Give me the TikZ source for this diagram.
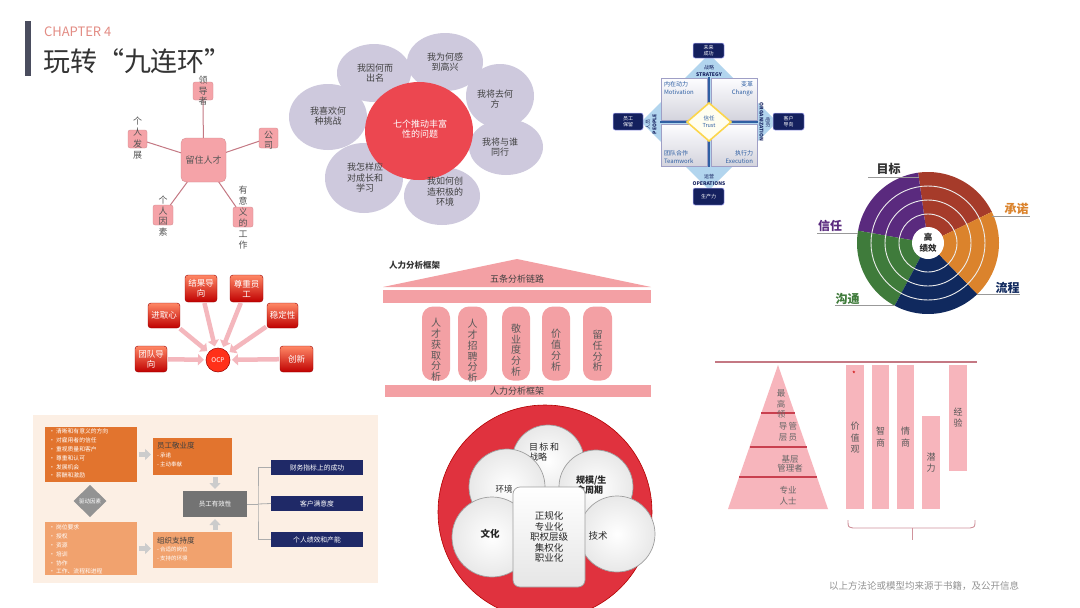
\documentclass[tikz,border=0pt]{standalone}
\usepackage{fontspec}
\setmainfont{Noto Sans CJK SC}
\usetikzlibrary{arrows.meta,shapes.geometric,calc}
\newcommand\fsz[2]{\fontsize{#1}{#2}\selectfont}
\definecolor{titlebar}{HTML}{4A4D5E}
\definecolor{chapter}{HTML}{E38C84}
\definecolor{titletext}{HTML}{333333}
\definecolor{starpink}{HTML}{F5A3A8}
\definecolor{starline}{HTML}{C47883}
\definecolor{startext}{HTML}{555555}
\definecolor{petal}{HTML}{CEC9DD}
\definecolor{flowerred}{HTML}{EC4750}
\definecolor{dblue}{HTML}{B2D5EE}
\definecolor{navy}{HTML}{14205E}
\definecolor{qtext}{HTML}{2F5FA3}
\definecolor{pred}{HTML}{A63B2A}
\definecolor{ppurple}{HTML}{5A2A7E}
\definecolor{pgreen}{HTML}{3F7B3B}
\definecolor{pnavy}{HTML}{10295E}
\definecolor{porange}{HTML}{DB832C}
\definecolor{ocparrow}{HTML}{F4B7BD}
\definecolor{hrpink}{HTML}{F3A0A4}
\definecolor{pyrpink}{HTML}{F7B5BC}
\definecolor{pyrline}{HTML}{C9404F}
\definecolor{panel}{HTML}{FCEFE4}
\definecolor{odark}{HTML}{E2742E}
\definecolor{olight}{HTML}{F1A26E}
\definecolor{bnavy}{HTML}{1F2967}
\definecolor{effgray}{HTML}{737373}
\definecolor{orgred}{HTML}{E0323E}
\begin{document}
\begin{tikzpicture}[x=1pt,y=-1pt,
  every node/.style={inner sep=0pt,outer sep=0pt},
  starbox/.style={fill=starpink,rounded corners=2pt,draw=starpink!85!black,line width=0.3pt},
  starlink/.style={draw=starline,line width=1pt},
  vtext/.style={align=center,text=startext},
  petalst/.style={ellipse,fill=petal},
  ptext/.style={align=center,text=black!75,font=\fsz{9}{10.5}},
  navybox/.style={fill=navy,draw=blue!30!white,line width=0.5pt,rounded corners=2pt,text=white,align=center,font=\fsz{5}{6}},
  qbox/.style={top color=white!90!blue!8,bottom color=blue!12!gray!30,draw=blue!25!gray!60,line width=0.5pt},
  ocpbox/.style={rounded corners=3pt,top color=red!55!orange!60,bottom color=red!75!black,draw=red!60!black,line width=0.4pt,text=white,align=center,font=\fsz{8.5}{10}},
  ocparr/.style={draw=ocparrow,line width=4.5pt,-{Triangle[width=11pt,length=6pt]},shorten >=2pt,shorten <=1pt},
  pillar/.style={rounded corners=11pt,fill=hrpink},
  pilltext/.style={align=center,text=black!65,font=\fsz{10}{10.8}},
  grayarr/.style={draw=gray!40,line width=5pt,-{Triangle[width=11pt,length=6pt]},shorten <=2pt,shorten >=2pt},
  wcirc/.style={circle,draw=gray!75,line width=0.7pt,inner color=white,outer color=gray!18},
  pielabel/.style={font=\bfseries\fsz{12}{12}}
]
\useasboundingbox (0,0) rectangle (1080,608);
\fill[white] (0,0) rectangle (1080,608);

% ---------- title
\fill[titlebar] (25,21) rectangle (31,76);
\node[anchor=west,text=chapter,font=\fsz{13}{13}] (chap) at (44,32) {CHAPTER 4};
\node[anchor=west,text=titletext,font=\fsz{27}{27}] (ttl) at (43,61) {玩转“九连环”};

% ---------- star diagram
\node[starbox,minimum width=45pt,minimum height=44pt,rounded corners=5pt] (ct) at (203.5,160) {};
\node[font=\fsz{9}{10},text=startext] (ctt) at (ct) {留住人才};
\node[starbox,minimum width=20pt,minimum height=18pt] (ld) at (203,91) {};
\node[starbox,minimum width=19pt,minimum height=18pt] (gr) at (137.5,139) {};
\node[starbox,minimum width=19pt,minimum height=20pt] (gs) at (268.5,138) {};
\node[starbox,minimum width=20pt,minimum height=20pt] (gy) at (163,215) {};
\node[starbox,minimum width=20pt,minimum height=20pt] (yy) at (243,217) {};
\foreach \s in {ld,gr,gs,gy,yy} \draw[starlink] (ct) -- (\s);
\node[vtext,font=\fsz{9}{10.5}] (ldt) at (203,91) {领\\导\\者};
\node[vtext,font=\fsz{9}{11.5}] (grt) at (137.5,138) {个\\人\\发\\展};
\node[vtext,font=\fsz{9}{10.5}] (gst) at (268.5,140) {公\\司};
\node[vtext,font=\fsz{9}{10.5}] (gyt) at (163,216) {个\\人\\因\\素};
\node[vtext,font=\fsz{9}{11}] (yyt) at (243,217.5) {有\\意\\义\\的\\工\\作};

% ---------- flower
\node[petalst,minimum width=74pt,minimum height=58pt] (p1) at (374,73) {};
\node[petalst,minimum width=76pt,minimum height=58pt] (p2) at (445,62) {};
\node[petalst,minimum width=68pt,minimum height=64pt] (p3) at (500,96) {};
\node[petalst,minimum width=74pt,minimum height=56pt] (p4) at (506,147) {};
\node[petalst,minimum width=76pt,minimum height=58pt] (p5) at (442,196) {};
\node[petalst,minimum width=78pt,minimum height=70pt] (p6) at (364,178) {};
\node[petalst,minimum width=78pt,minimum height=66pt] (p7) at (328,117) {};
\node[ellipse,fill=flowerred,minimum width=108pt,minimum height=98pt] (fc) at (419,131) {};
\node[ptext,text=white] (fct) at (420,129) {七个推动丰富\\性的问题};
\node[ptext] (p1t) at (375,73) {我因何而\\出名};
\node[ptext] (p2t) at (445,62) {我为何感\\到高兴};
\node[ptext] (p3t) at (495,99) {我将去何\\方};
\node[ptext] (p4t) at (500,147) {我将与谁\\同行};
\node[ptext] (p5t) at (445,192) {我如何创\\造积极的\\环境};
\node[ptext] (p6t) at (365,178) {我怎样应\\对成长和\\学习};
\node[ptext] (p7t) at (328,116) {我喜欢何\\种挑战};

% ---------- diamond model
\fill[dblue] (709,54) -- (777,122) -- (709,190) -- (641,122) -- cycle;
\draw[qbox] (661,78) rectangle (707,120);
\draw[qbox] (711,78) rectangle (757,120);
\draw[qbox] (661,124) rectangle (707,166);
\draw[qbox] (711,124) rectangle (757,166);
\draw[qtext,line width=1.3pt] (709,77) -- (709,167);
\draw[qtext,line width=1.3pt] (660,122) -- (758,122);
\draw[draw=yellow!60!orange!70,fill=yellow!6,line width=1.6pt] (709,103) -- (731,122) -- (709,141) -- (687,122) -- cycle;
\node[align=center,text=qtext,font=\fsz{5.5}{7}] (trust) at (709,122) {信任\\Trust};
\node[navybox,minimum width=31pt,minimum height=15pt] (fut) at (708.5,50.5) {未来\\成功};
\node[navybox,minimum width=31pt,minimum height=17pt] (prd) at (708.5,196.5) {生产力};
\node[navybox,minimum width=30pt,minimum height=17pt] (ret) at (628,121.5) {员工\\保留};
\node[navybox,minimum width=31pt,minimum height=17pt] (cus) at (788.5,121.5) {客户\\导向};
\node[align=center,text=navy,font=\fsz{5}{7}] (stl) at (709,71) {战略\\\textbf{STRATEGY}};
\node[align=center,text=navy,font=\fsz{5}{7}] (opl) at (709,180) {运营\\\textbf{OPERATIONS}};
\node[align=center,text=navy,font=\fsz{5}{6.5},rotate=90] (ppl) at (651,124) {人员\\\textbf{PEOPLE}};
\node[align=center,text=navy,font=\fsz{5}{6.5},rotate=-90] (orgl) at (765,122) {组织\\\textbf{ORGANIZATION}};
\node[anchor=north west,align=left,text=qtext,font=\fsz{6}{8}] (mot) at (664,81) {内在动力\\Motivation};
\node[anchor=north east,align=right,text=qtext,font=\fsz{6}{8}] (chg) at (753,81) {变革\\Change};
\node[anchor=north west,align=left,text=qtext,font=\fsz{6}{8}] (tw) at (664,150) {团队合作\\Teamwork};
\node[anchor=north east,align=right,text=qtext,font=\fsz{6}{8}] (exe) at (753,150) {执行力\\Execution};

% ---------- pie chart
\fill[pred] (928,243) -- plot[domain=26:98,samples=40] ({928+71*cos(\x)},{243-71*sin(\x)}) -- cycle;
\fill[ppurple] (928,243) -- plot[domain=98:170,samples=40] ({928+71*cos(\x)},{243-71*sin(\x)}) -- cycle;
\fill[pgreen] (928,243) -- plot[domain=170:242,samples=40] ({928+71*cos(\x)},{243-71*sin(\x)}) -- cycle;
\fill[pnavy] (928,243) -- plot[domain=242:314,samples=40] ({928+71*cos(\x)},{243-71*sin(\x)}) -- cycle;
\fill[porange] (928,243) -- plot[domain=314:386,samples=40] ({928+71*cos(\x)},{243-71*sin(\x)}) -- cycle;
\foreach \r in {29,43,57} \draw[white!85!gray,line width=0.9pt] (928,243) circle[radius=\r];
\fill[white] (928,243) circle[radius=16];
\node[align=center,font=\bfseries\fsz{8.5}{11},text=black!85] (hp) at (928,243) {高\\绩效};
\node[pielabel,text=black!80] (mb) at (888.5,169) {目标};
\node[pielabel,text=porange] (cn) at (1016.5,209) {承诺};
\node[pielabel,text=ppurple] (xr) at (830,226) {信任};
\node[pielabel,text=pgreen] (gt) at (847.5,298.5) {沟通};
\node[pielabel,text=pnavy] (lc) at (1007.5,287.5) {流程};
\draw[gray!80,line width=0.8pt] (868,177) -- (919,177);
\draw[gray!80,line width=0.8pt] (992,216) -- (1030,216);
\draw[gray!80,line width=0.8pt] (817,233) -- (858,233);
\draw[gray!80,line width=0.8pt] (835,305) -- (895,305);
\draw[gray!80,line width=0.8pt] (977,294) -- (1020,294);

% ---------- OCP
\node[circle,fill=red!80!orange!90,draw=red!60!black,line width=0.5pt,minimum size=24pt,text=white,font=\fsz{6.5}{7}] (ocp) at (218,360) {OCP};
\node[ocpbox,minimum width=32pt,minimum height=26pt] (o1) at (151,359) {团队导\\向};
\node[ocpbox,minimum width=32pt,minimum height=25pt] (o2) at (164,315.5) {进取心};
\node[ocpbox,minimum width=32pt,minimum height=27pt] (o3) at (201,288.5) {结果导\\向};
\node[ocpbox,minimum width=33pt,minimum height=27pt] (o4) at (246.5,288.5) {尊重员\\工};
\node[ocpbox,minimum width=31pt,minimum height=25pt] (o5) at (282.5,315.5) {稳定性};
\node[ocpbox,minimum width=33pt,minimum height=26pt] (o6) at (296.5,359) {创新};
\foreach \s in {o1,o2,o3,o4,o5,o6} \draw[ocparr] (\s) -- (ocp);

% ---------- HR framework
\node[anchor=west,font=\bfseries\fsz{8.5}{9},text=black!80] (hrt) at (389,265) {人力分析框架};
\fill[hrpink] (383,287) -- (517,259) -- (651,287) -- cycle;
\node[font=\fsz{9}{10},text=black!75] (roof) at (517,279) {五条分析链路};
\fill[hrpink] (383,290) rectangle (651,303);
\node[pillar,minimum width=28pt,minimum height=74pt] (h1) at (436,343.5) {};
\node[pillar,minimum width=29pt,minimum height=74pt] (h2) at (472.5,343.5) {};
\node[pillar,minimum width=28pt,minimum height=74pt] (h3) at (516,343.5) {};
\node[pillar,minimum width=28pt,minimum height=74pt] (h4) at (556,343.5) {};
\node[pillar,minimum width=29pt,minimum height=74pt] (h5) at (597.5,343.5) {};
\node[pilltext] (h1t) at (436,350) {人\\才\\获\\取\\分\\析};
\node[pilltext] (h2t) at (472.5,351) {人\\才\\招\\聘\\分\\析};
\node[pilltext] (h3t) at (516,350) {敬\\业\\度\\分\\析};
\node[pilltext] (h4t) at (556,350) {价\\值\\分\\析};
\node[pilltext] (h5t) at (597.5,351) {留\\任\\分\\析};
\fill[hrpink] (385,385) rectangle (651,397);
\node[font=\fsz{9}{10},text=black!75] (base) at (517,391) {人力分析框架};

% ---------- pyramid and bars
\draw[starline,line width=1.4pt] (715,362) -- (977,362);
\fill[pyrpink] (778,365) -- (828,509) -- (728,509) -- cycle;
\draw[pyrline,line width=1.1pt] (761,413) -- (795,413);
\draw[pyrline,line width=1.1pt] (749.5,447) -- (806.5,447);
\draw[pyrline,line width=1.1pt] (739,477) -- (817,477);
\node[vtext,font=\fsz{8.5}{10.5},text=black!60] (t1) at (781,404) {最\\高\\领};
\node[vtext,font=\fsz{8.5}{11},text=black!60] (t2) at (788,432) {导\,管\\层\,员};
\node[vtext,font=\fsz{8.5}{9.5},text=black!60] (t3) at (790,464) {基层\\管理者};
\node[vtext,font=\fsz{8.5}{11},text=black!60] (t4) at (788,496) {专业\\人士};
\fill[pyrpink] (846,365) rectangle (864,509);
\fill[pyrpink] (872,365) rectangle (889,509);
\fill[pyrpink] (897,365) rectangle (914,509);
\fill[pyrpink] (922,416) rectangle (940,509);
\fill[pyrpink] (949,365) rectangle (967,471);
\node[text=red!80!black,font=\fsz{8}{8}] (ast) at (854,374) {*};
\node[vtext,font=\fsz{9}{11.5},text=black!65] (b1) at (855,438) {价\\值\\观};
\node[vtext,font=\fsz{9}{12},text=black!65] (b2) at (880.5,437) {智\\商};
\node[vtext,font=\fsz{9}{12},text=black!65] (b3) at (905.5,437) {情\\商};
\node[vtext,font=\fsz{9}{11.5},text=black!65] (b4) at (931,462.5) {潜\\力};
\node[vtext,font=\fsz{9}{11}] (b5) at (958,418) {经\\验};
\draw[starline!80,line width=0.9pt] (848,520) .. controls (848,527) .. (853,528) -- (970,528) .. controls (975,527) .. (975,520);
\draw[starline!80,line width=0.9pt] (912,528) -- (912,540);

% ---------- orange flow chart
\fill[panel] (33,415) rectangle (378,583);
\node[fill=odark,minimum width=92pt,minimum height=55pt] (da) at (91,454.5) {};
\node[anchor=north west,align=left,text=white,font=\fsz{5.8}{8.8}] (dat) at (49,429) {· 清晰和有意义的方向\\· 对雇用者的信任\\· 重视质量和客户\\· 尊重和认可\\· 发展机会\\· 薪酬和激励};
\node[fill=olight,minimum width=92pt,minimum height=53pt] (db) at (91,548.5) {};
\node[anchor=north west,align=left,text=white,font=\fsz{5.8}{8.8}] (dbt) at (49,525) {· 岗位要求\\· 授权\\· 资源\\· 培训\\· 协作\\· 工作、流程和进程};
\fill[gray!85] (90,485) -- (106.5,501) -- (90,517) -- (73.5,501) -- cycle;
\node[text=white,font=\fsz{5.5}{6}] (drv) at (90,501) {驱动因素};
\node[fill=odark,minimum width=79pt,minimum height=37pt] (eng) at (192.5,456.5) {};
\node[anchor=west,text=black!75,font=\fsz{7.5}{8}] (engt) at (157,446) {员工敬业度};
\node[anchor=north west,align=left,text=white,font=\fsz{5.5}{8.5}] (engb) at (157,453) {- 承诺\\- 主动奉献};
\node[fill=olight,minimum width=79pt,minimum height=36pt] (sup) at (192.5,550) {};
\node[anchor=west,text=black!75,font=\fsz{7.5}{8}] (supt) at (157,541) {组织支持度};
\node[anchor=north west,align=left,text=white,font=\fsz{5.5}{8.5}] (supb) at (157,547) {- 合适的岗位\\- 支持的环境};
\node[fill=effgray,minimum width=64pt,minimum height=26pt,text=white,font=\fsz{6.5}{7}] (eff) at (215,504) {员工有效性};
\draw[grayarr] (da.east) -- (da.east -| eng.west);
\draw[grayarr] (db.east) -- (db.east -| sup.west);
\draw[grayarr] (eff.north |- eng.south) -- (eff.north);
\draw[grayarr] (eff.south |- sup.north) -- (eff.south);
\node[fill=bnavy,minimum width=92pt,minimum height=15pt,text=white,font=\fsz{6.8}{7}] (n1) at (317,467.5) {财务指标上的成功};
\node[fill=bnavy,minimum width=92pt,minimum height=15pt,text=white,font=\fsz{6.8}{7}] (n2) at (317,503.5) {客户满意度};
\node[fill=bnavy,minimum width=92pt,minimum height=15pt,text=white,font=\fsz{6.8}{7}] (n3) at (317,539.5) {个人绩效和产能};
\coordinate (jn) at (258,504);
\draw[gray!65,line width=0.8pt] (eff.east) -- (jn);
\draw[gray!65,line width=0.8pt] (n1.west) -| (jn) |- (n3.west);
\draw[gray!65,line width=0.8pt] (jn) -- (n2.west);

% ---------- organisation circle
\fill[orgred] (545,512) circle[radius=107];
\draw[red!70!black,line width=0.6pt] (545,512) circle[radius=107];
\node[wcirc,minimum size=72pt] (c1) at (548,461) {};
\node[anchor=west,align=left,font=\fsz{9}{10.5},text=black!85] (c1t) at (529,452) {目\,标\,和\\战略};
\node[wcirc,minimum size=76pt] (c2) at (507,487) {};
\node[font=\fsz{8.5}{9},text=black!85] (c2t) at (504,489) {环境};
\node[wcirc,minimum size=74pt] (c3) at (596,487) {};
\node[anchor=west,align=left,font=\bfseries\fsz{9}{10},text=black!85] (c3t) at (576,485) {规模/生\\命周期};
\node[wcirc,minimum size=80pt] (c4) at (492,537) {};
\node[font=\bfseries\fsz{9.5}{10},text=black!85] (c4t) at (490,534) {文化};
\node[wcirc,minimum size=76pt] (c5) at (617,534) {};
\node[font=\fsz{9.5}{10},text=black!85] (c5t) at (598,536) {技术};
\node[draw=gray!75,line width=0.7pt,rounded corners=7pt,top color=white,bottom color=gray!20,minimum width=72pt,minimum height=100pt,align=center,font=\fsz{9.5}{10.5},text=black!85] (core) at (549,537) {正规化\\专业化\\职权层级\\集权化\\职业化};

% ---------- footer
\node[text=gray!85,font=\fsz{9.5}{10}] (foot) at (924,586) {以上方法论或模型均来源于书籍，及公开信息};
\end{tikzpicture}
\end{document}
